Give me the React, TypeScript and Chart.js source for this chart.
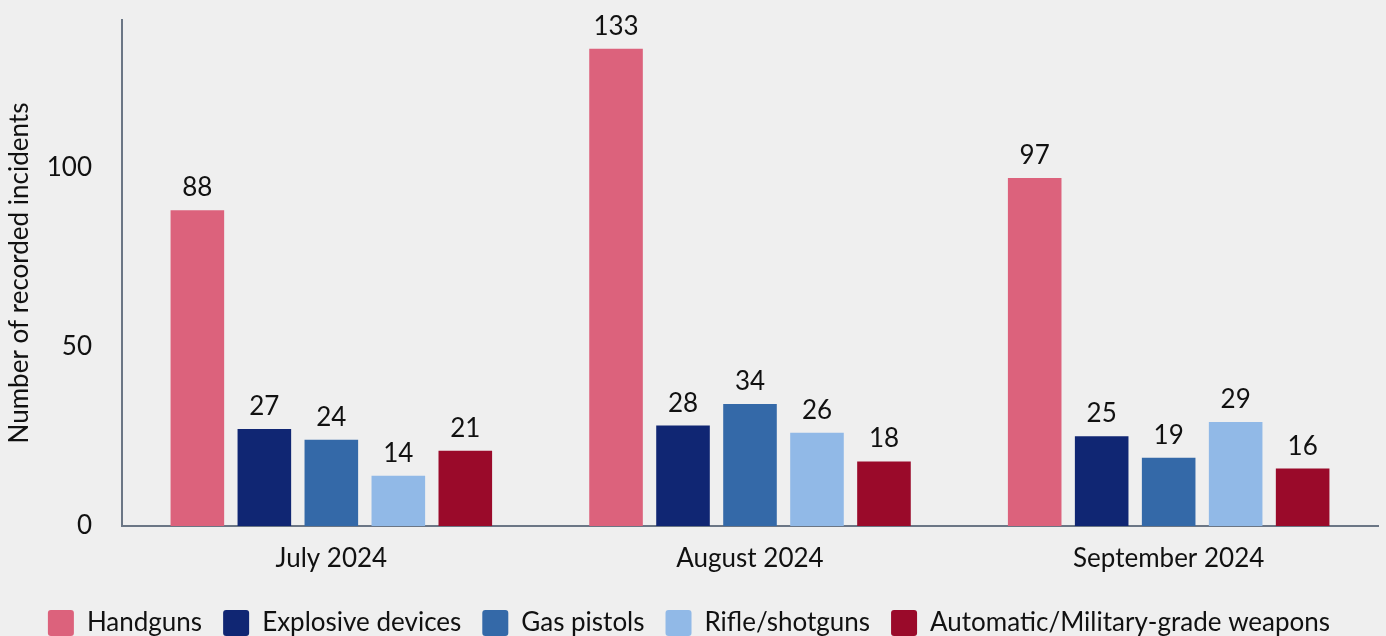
import React, { useEffect, useRef } from "react";
import { Chart, registerables } from "chart.js";

Chart.register(...registerables);

const months = ["July 2024", "August 2024", "September 2024"];
const seriesNames = ["Handguns", "Explosive devices", "Gas pistols", "Rifle/shotguns", "Automatic/Military-grade weapons"];
const handguns = [88, 133, 97];
const explosiveDevices = [27, 28, 25];
const gasPistols = [24, 34, 19];
const rifleShotguns = [14, 26, 29];
const automaticWeapons = [21, 18, 16];
const seriesColors = ["#dc627c", "#102673", "#3469a8", "#91b9e7", "#9a0a2a"];
const yTicks = [0, 50, 100];

const FONT = "Lato";
const TEXT = "#111111";
const CANVAS_H = 646;

const valueLabels = {
  id: "valueLabels",
  afterDatasetsDraw(chart: any) {
    const ctx = chart.ctx;
    ctx.save();
    ctx.font = `26px ${FONT}`;
    ctx.fillStyle = TEXT;
    ctx.textAlign = "center";
    ctx.textBaseline = "alphabetic";
    chart.data.datasets.forEach((ds: any, i: number) => {
      const meta = chart.getDatasetMeta(i);
      meta.data.forEach((bar: any, j: number) => {
        ctx.fillText(String(ds.data[j]), bar.x, bar.y - 14);
      });
    });
    ctx.restore();
  },
};

export default function App() {
  const ref = useRef<HTMLCanvasElement>(null);
  useEffect(() => {
    document.body.style.margin = "0";
    document.body.style.background = "#efefef";
    const allData = [handguns, explosiveDevices, gasPistols, rifleShotguns, automaticWeapons];
    const chart = new Chart(ref.current!, {
      type: "bar",
      data: {
        labels: months,
        datasets: seriesNames.map((name, i) => ({
          label: name,
          data: allData[i],
          backgroundColor: seriesColors[i],
          borderWidth: 0,
          barPercentage: 0.8,
          categoryPercentage: 0.8,
        })),
      },
      options: {
        animation: false,
        responsive: false,
        maintainAspectRatio: false,
        layout: { padding: { top: 20, right: 8, left: 0, bottom: 0 } },
        font: { family: FONT },
        plugins: {
          tooltip: { enabled: false },
          legend: {
            position: "bottom",
            labels: {
              font: { family: FONT, size: 26 },
              color: TEXT,
              boxWidth: 26,
              boxHeight: 26,
              padding: 21,
              useBorderRadius: true,
              borderRadius: 3,
            },
          },
        },
        scales: {
          x: {
            grid: { display: false, drawTicks: false },
            border: { display: true, color: "#6b7685", width: 2 },
            ticks: { font: { family: FONT, size: 26 }, color: TEXT, padding: 17 },
            afterFit: (axis: any) => {
              axis.height = 63;
            },
          },
          y: {
            min: 0,
            max: 141,
            grid: { display: false, drawTicks: false },
            border: { display: true, color: "#6b7685", width: 2 },
            afterBuildTicks: (axis: any) => {
              axis.ticks = yTicks.map((v) => ({ value: v }));
            },
            afterFit: (axis: any) => {
              axis.width = 122;
              axis.paddingTop = 0;
              axis.paddingBottom = 0;
            },
            ticks: { font: { family: FONT, size: 26 }, color: TEXT, padding: 30 },
            title: {
              display: true,
              text: "Number of recorded incidents",
              font: { family: FONT, size: 26 },
              color: TEXT,
              padding: { top: 4, bottom: 0 },
            },
          },
        },
      },
      plugins: [valueLabels],
    });
    return () => chart.destroy();
  }, []);
  return (
    <div style={{ width: 1386, height: 636, overflow: "hidden", background: "#efefef" }}>
      <canvas ref={ref} width={1386} height={CANVAS_H} style={{ display: "block" }} />
    </div>
  );
}
